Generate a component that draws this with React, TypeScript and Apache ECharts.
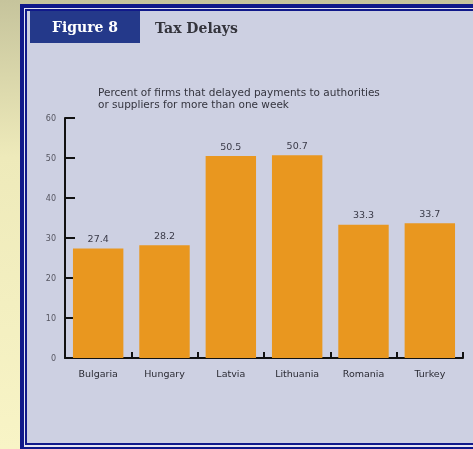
import React, { useEffect, useRef } from "react";
import * as echarts from "echarts";

const categories = ["Bulgaria", "Hungary", "Latvia", "Lithuania", "Romania", "Turkey"];
const values = [27.4, 28.2, 50.5, 50.7, 33.3, 33.7];
const valueLabels = ["27.4", "28.2", "50.5", "50.7", "33.3", "33.7"];
const yTicks = [0, 10, 20, 30, 40, 50, 60];

const NAVY = "#10198a";
const LAV = "#cdd0e2";
const LIGHT = "#e4e5f1";
const SANS = "'DejaVu Sans', sans-serif";

export default function App() {
  const ref = useRef<HTMLDivElement>(null);
  useEffect(() => {
    if (!ref.current) return;
    const chart = echarts.init(ref.current, undefined, { renderer: "svg" });
    chart.setOption({
      animation: false,
      backgroundColor: "transparent",
      graphic: [
        {
          type: "rect", z: -10, silent: true,
          shape: { x: 0, y: 0, width: 473, height: 449 },
          style: {
            fill: new echarts.graphic.LinearGradient(0, 0, 0, 1, [
              { offset: 0, color: "#c6c49c" },
              { offset: 0.35, color: "#eeeaba" },
              { offset: 1, color: "#f8f4c6" },
            ]),
          },
        },
        { type: "rect", z: -9, silent: true, shape: { x: 20, y: 4, width: 460, height: 450 }, style: { fill: NAVY } },
        { type: "rect", z: -8, silent: true, shape: { x: 24, y: 8, width: 460, height: 439 }, style: { fill: LIGHT } },
        { type: "rect", z: -7, silent: true, shape: { x: 25, y: 9, width: 460, height: 436 }, style: { fill: NAVY } },
        { type: "rect", z: -6, silent: true, shape: { x: 27, y: 11, width: 460, height: 432 }, style: { fill: LAV } },
        { type: "rect", z: -5, silent: true, shape: { x: 30, y: 11, width: 110, height: 32 }, style: { fill: "#24398a" } },
        {
          type: "text", z: -4, silent: true, x: 85, y: 27,
          style: {
            text: "Figure 8", fill: "#ffffff", font: "bold 14px 'DejaVu Serif', serif",
            align: "center", verticalAlign: "middle",
          },
        },
        {
          type: "text", z: -4, silent: true, x: 155, y: 28,
          style: {
            text: "Tax Delays", fill: "#34343c", font: "bold 14px 'DejaVu Serif', serif",
            align: "left", verticalAlign: "middle",
          },
        },
        {
          type: "text", z: -4, silent: true, x: 98, y: 92,
          style: {
            text: "Percent of firms that delayed payments to authorities",
            fill: "#34343e", font: "10.5px " + SANS,
            align: "left", verticalAlign: "middle",
          },
        },
        {
          type: "text", z: -4, silent: true, x: 98, y: 104,
          style: {
            text: "or suppliers for more than one week",
            fill: "#34343e", font: "10.5px " + SANS,
            align: "left", verticalAlign: "middle",
          },
        },
      ],
      grid: { left: 65, right: 10, top: 118, bottom: 91, containLabel: false },
      xAxis: {
        type: "category",
        data: categories,
        boundaryGap: true,
        axisLine: { show: true, lineStyle: { color: "#111111", width: 2 } },
        axisTick: { show: true, inside: true, length: 6, alignWithLabel: false, lineStyle: { color: "#111111", width: 2 } },
        axisLabel: { color: "#2a2a33", fontSize: 9.5, fontFamily: SANS, margin: 10 },
      },
      yAxis: {
        type: "value",
        min: 0,
        max: 60,
        interval: 10,
        splitLine: { show: false },
        axisLine: { show: true, lineStyle: { color: "#111111", width: 2 } },
        axisTick: { show: true, inside: true, length: 10, lineStyle: { color: "#111111", width: 2 } },
        axisLabel: {
          color: "#555560", fontSize: 8, fontFamily: SANS, margin: 9,
          formatter: (v: number) => (yTicks.includes(v) ? String(v) : ""),
        },
      },
      series: [
        {
          type: "bar",
          data: values,
          barCategoryGap: "24%",
          itemStyle: { color: "#e9971f" },
          label: {
            show: true, position: "top", distance: 5,
            color: "#3a3a48", fontSize: 9.5, fontFamily: SANS,
            formatter: (p: any) => valueLabels[p.dataIndex],
          },
        },
      ],
    });
    return () => chart.dispose();
  }, []);
  return (
    <div
      ref={ref}
      style={{ position: "fixed", left: 0, top: 0, width: 473, height: 449 }}
    />
  );
}
